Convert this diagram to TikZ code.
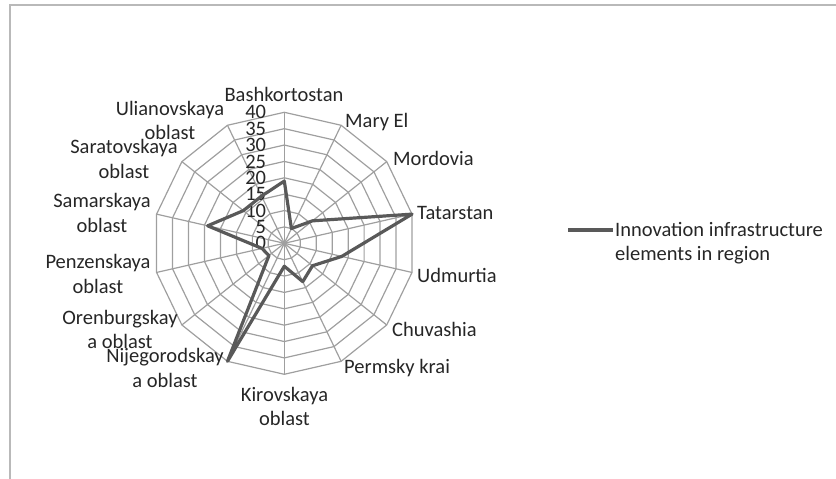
\documentclass[tikz,border=0pt]{standalone}
\usepackage{fontspec}
\setmainfont{Carlito}
\begin{document}
\begin{tikzpicture}[x=1pt, y=1pt,
  grid/.style={gray!75, line width=1.2pt},
  series/.style={black!65, line width=3.2pt, line join=round},
  lbl/.style={font=\fontsize{20.5}{24.5}\selectfont, inner sep=0pt, align=center, text=black!85}]
\useasboundingbox (0,0) rectangle (836,479);

% Rahmen
\draw[gray!55, line width=1.8pt] (10,0) -- (10,474) -- (836,474);

\coordinate (O) at (284.3,235.7);
\begin{scope}[shift={(O)}]
  % Netz
  \foreach \r in {1,...,8}
    \draw[grid] (90:{16.375*\r}) \foreach \k in {1,...,13}{ -- ({90-\k*360/14}:{16.375*\r})} -- cycle;
  \foreach \k in {0,...,13}
    \draw[grid] (0,0) -- ({90-\k*360/14}:131);

  % Achse
  \foreach \v in {0,5,...,40}
    \node[lbl, anchor=east] (ax\v) at (-18,{\v*131/40}) {\v};

  % Werte
  \foreach \v [count=\k from 0] in {19,5,11,40,18,11,13,7,40,6,7,24,16,16}
    \coordinate (p\k) at ({90-\k*360/14}:{\v*131/40});
  \draw[series] (p0) \foreach \k in {1,...,13}{ -- (p\k)} -- cycle;
\end{scope}

% Regionen
\node[lbl] (bash) at (284,385) {Bashkortostan};
\node[lbl, anchor=west] (mary) at (345,357) {Mary El};
\node[lbl, anchor=west] (mord) at (393,321) {Mordovia};
\node[lbl, anchor=west] (tata) at (417,266) {Tatarstan};
\node[lbl, anchor=west] (udmu) at (417,204) {Udmurtia};
\node[lbl, anchor=west] (chuv) at (392,150) {Chuvashia};
\node[lbl, anchor=west] (perm) at (344,111) {Permsky krai};
\node[lbl] (kiro) at (284.5,72.5) {Kirovskaya\\oblast};
\node[lbl] (nije) at (165,111) {Nijegorodskay\\a oblast};
\node[lbl] (oren) at (120,149.5) {Orenburgskay\\a oblast};
\node[lbl] (penz) at (98,205) {Penzenskaya\\oblast};
\node[lbl] (sama) at (102,266) {Samarskaya\\oblast};
\node[lbl] (sara) at (124,320) {Saratovskaya\\oblast};
\node[lbl] (ulia) at (170,358.5) {Ulianovskaya\\oblast};

% Legende
\node[lbl, align=left, anchor=west] (leg) at (615,236) {Innovation infrastructure\\elements in region};
\coordinate (legA) at (568,249);
\coordinate (legB) at (613,249);
\draw[series] (legA) -- (legB);
\end{tikzpicture}
\end{document}
